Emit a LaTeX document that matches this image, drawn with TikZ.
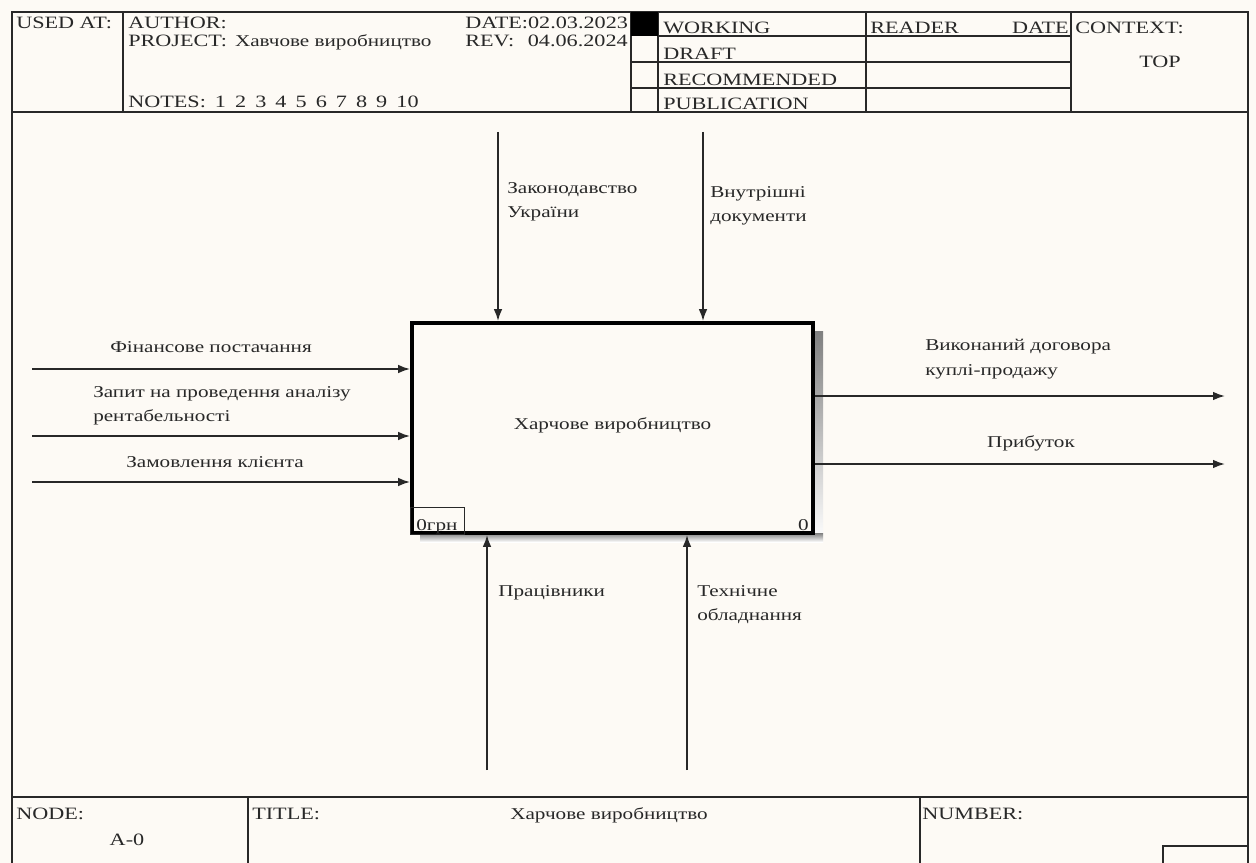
\documentclass[tikz,border=0pt]{standalone}
\usepackage{fontspec}
\setmainfont{Liberation Serif}[FakeStretch=1.28]
\usetikzlibrary{arrows.meta}
\definecolor{bg}{RGB}{253,250,245}
\definecolor{ln}{RGB}{40,40,40}
\definecolor{shade}{RGB}{180,180,180}
\newcommand{\ngap}{\hspace{6.8pt}}
\begin{document}
\begin{tikzpicture}[x=0.75pt,y=-0.75pt,
  frame/.style={draw=ln, line width=1.5pt},
  txt/.style={inner sep=0pt, text=ln, font=\fontsize{12.4}{18.5}\selectfont},
  htxt/.style={inner sep=0pt, text=ln, font=\fontsize{13}{15}\selectfont},
  ml/.style={txt, align=left, anchor=north west},
  flow/.style={draw=ln, line width=1.4pt, -{Latex[length=9pt,width=6.5pt]}},
  actbox/.style={draw=black, line width=2.8pt, fill=bg, inner sep=0pt,
    minimum width=300.75pt, minimum height=157.5pt, text=ln,
    font=\fontsize{12.4}{18.5}\selectfont}]
% background / bounding box
\fill[bg] (0,0) rectangle (1256,863);
\useasboundingbox (0,0) rectangle (1256,863);
% outer frame
\draw[frame] (12,863) -- (12,12) -- (1248,12) -- (1248,863);
% header grid
\draw[frame] (12,112) -- (1248,112);
\draw[frame] (123,12) -- (123,112);
\draw[frame] (631,12) -- (631,112);
\draw[frame] (658,12) -- (658,112);
\draw[frame] (866,12) -- (866,112);
\draw[frame] (1071,12) -- (1071,112);
\draw[frame] (658,36) -- (1071,36);
\draw[frame] (631,62) -- (1071,62);
\draw[frame] (631,88) -- (1071,88);
\fill[black] (631,12) rectangle (658,36);
% header texts
\node[htxt, anchor=base west] (usedat) at (16,29) {USED AT:};
\node[htxt, anchor=base west] (author) at (128,29) {AUTHOR:};
\node[htxt, anchor=base west] (project) at (128,47) {PROJECT:\hspace{6pt}{\fontsize{12.4}{15}\selectfont Хавчове виробництво}};
\node[htxt, anchor=base west] (notes) at (128,108) {NOTES:\ngap 1\ngap 2\ngap 3\ngap 4\ngap 5\ngap 6\ngap 7\ngap 8\ngap 9\ngap 10};
\node[htxt, anchor=base west] (date) at (465,29) {DATE:02.03.2023};
\node[htxt, anchor=base west] (rev) at (465,47) {REV:};
\node[htxt, anchor=base east] (revdate) at (628,47) {04.06.2024};
\node[htxt, anchor=base west] (working) at (663,34) {WORKING};
\node[htxt, anchor=base west] (draft) at (663,60) {DRAFT};
\node[htxt, anchor=base west] (recommended) at (663,86) {RECOMMENDED};
\node[htxt, anchor=base west] (publication) at (663,110) {PUBLICATION};
\node[htxt, anchor=base west] (reader) at (870,34) {READER};
\node[htxt, anchor=base east] (rdate) at (1069,34) {DATE};
\node[htxt, anchor=base west] (context) at (1075,34) {CONTEXT:};
\node[htxt, anchor=base] (top) at (1160,68) {TOP};
% footer
\draw[frame] (12,797) -- (1248,797);
\draw[frame] (248,797) -- (248,863);
\draw[frame] (920,797) -- (920,863);
\draw[frame] (1163,863) -- (1163,846) -- (1248,846);
\node[htxt, anchor=base west] (nodelbl) at (16,819) {NODE:};
\node[htxt, anchor=base] (nodeval) at (127,845) {A-0};
\node[htxt, anchor=base west] (titlelbl) at (252,819) {TITLE:};
\node[txt, anchor=base] (titleval) at (609,819) {Харчове виробництво};
\node[htxt, anchor=base west] (numberlbl) at (922,819) {NUMBER:};
% activity box with shadow
\fill[shade] (813,331) rectangle (823,542);
\fill[shade] (420,533) rectangle (823,542);
\node[actbox] (box) at (612.5,428) {\raisebox{7pt}{Харчове виробництво}};
\node[draw=ln, line width=0.9pt, inner sep=0pt, anchor=south west,
  minimum width=40.5pt, minimum height=20.25pt] (cost) at (box.south west) {};
\node[txt, anchor=base west] (costtxt) at (416,530) {0грн};
\node[txt, anchor=base east] (boxnum) at (809,530) {0};
% inputs
\coordinate (in1) at (32,369);
\coordinate (in2) at (32,436);
\coordinate (in3) at (32,482);
\draw[flow] (in1) -- (in1 -| box.west);
\draw[flow] (in2) -- (in2 -| box.west);
\draw[flow] (in3) -- (in3 -| box.west);
\node[txt, anchor=base] (l1) at (211,352) {Фінансове постачання};
\node[ml] (l2) at (93,386) {Запит на проведення аналізу\\рентабельності};
\node[txt, anchor=base] (l3) at (215,467) {Замовлення клієнта};
% controls
\coordinate (c1) at (498,132);
\coordinate (c2) at (703,132);
\draw[flow] (c1) -- (c1 |- box.north);
\draw[flow] (c2) -- (c2 |- box.north);
\node[ml] (lc1) at (507,182) {Законодавство\\України};
\node[ml] (lc2) at (710,186) {Внутрішні\\документи};
% mechanisms
\coordinate (m1) at (487,770);
\coordinate (m2) at (687,770);
\draw[flow] (m1) -- (m1 |- box.south);
\draw[flow] (m2) -- (m2 |- box.south);
\node[ml] (lm1) at (498,585) {Працівники};
\node[ml] (lm2) at (697,585) {Технічне\\обладнання};
% outputs
\coordinate (o1) at (1225,396);
\coordinate (o2) at (1225,464);
\draw[flow] (o1 -| box.east) -- (o1);
\draw[flow] (o2 -| box.east) -- (o2);
\node[ml] (lo1) at (925,339) {Виконаний договора\\куплі-продажу};
\node[txt, anchor=base] (lo2) at (1031,447) {Прибуток};
\end{tikzpicture}
\end{document}
